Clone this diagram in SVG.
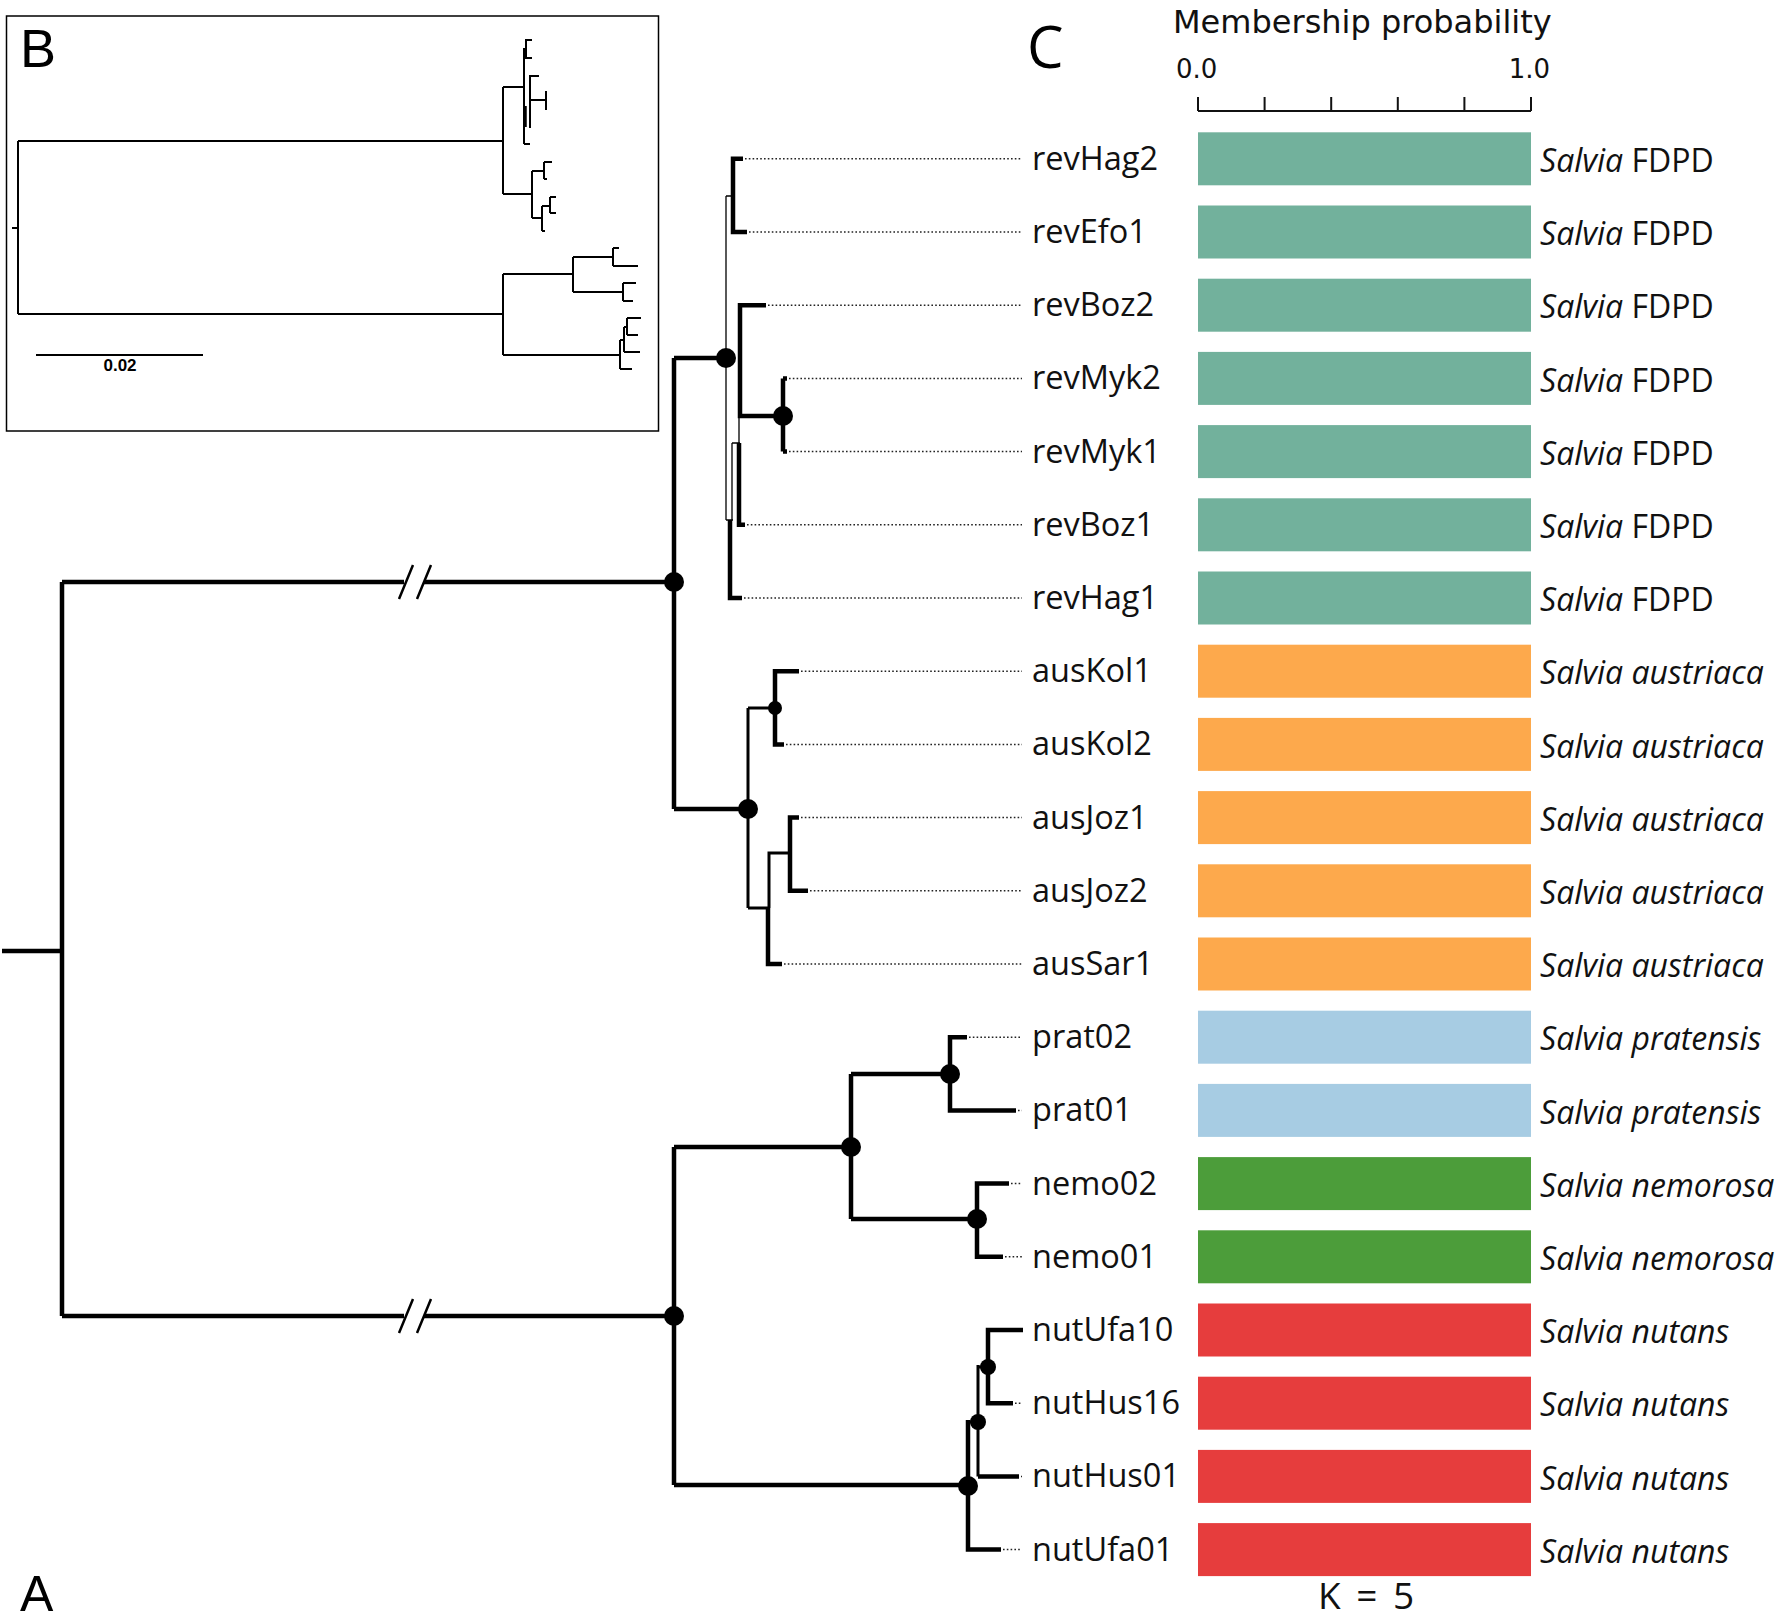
<svg xmlns="http://www.w3.org/2000/svg" width="1779" height="1620" viewBox="0 0 1779 1620">
<style>
.br{fill:none;stroke:#000;stroke-width:4.5;stroke-linecap:butt;stroke-linejoin:miter}
.md{fill:none;stroke:#000;stroke-width:3;stroke-linejoin:miter}
.th{fill:none;stroke:#000;stroke-width:1.3}
.sl{fill:none;stroke:#000;stroke-width:2.5}
.dot{fill:none;stroke:#222;stroke-width:1.5;stroke-dasharray:1.6 2.2}
.bt{fill:none;stroke:#000;stroke-width:2}
.nd{fill:#000}
.tip{font-family:"Open Sans","Noto Sans",sans-serif;font-size:32.5px;fill:#111}
.sp{font-family:"Open Sans","Noto Sans",sans-serif;font-size:32px;fill:#111}
.it{font-style:italic}
.ax{font-family:"DejaVu Sans",sans-serif;fill:#111}
.pl{font-family:"Liberation Sans",Arial,sans-serif;fill:#000}
.fdpd{fill:#72B19C}.aus{fill:#FDA94C}.prat{fill:#A7CCE3}.nemo{fill:#4C9D3A}.nut{fill:#E63D3D}
</style>

<!-- Panel B inset -->
<g id="panel-B">
<rect x="6.5" y="16" width="652" height="415" fill="none" stroke="#000" stroke-width="1.5"/>
<text class="pl" x="20" y="67" font-size="54">B</text>
<g class="bt">
<path d="M12,228H18M18,141V314M18,141H503M18,314H503"/>
<path d="M503,87V194M503,87H524M503,194H532"/>
<path d="M524,48V144M532,40H526V58H532M539,76H530V128M530,100H546M546,91V110M524,144H530"/>
<path d="M525,106V127" stroke-width="3.5"/>
<path d="M532,171V218M532,171H544M544,162V179M544,162H552M544,179H547"/>
<path d="M532,218H542M542,206V231M542,231H545M542,206H550M550,197V213M550,197H556M550,213H556"/>
<path d="M503,274V355M503,274H573M573,257V292M573,257H613M613,248V266M613,248H619M613,266H638"/>
<path d="M573,292H623M623,283V301M623,283H636M623,301H633"/>
<path d="M503,355H620M620,340V369M620,369H632M620,340H624M624,327V352M624,352H640M624,327H627M627,318V335M627,318H641M627,335H638"/>
<path d="M36,355H203"/>
</g>
<text class="pl" x="120" y="371" font-size="17" font-weight="bold" text-anchor="middle">0.02</text>
</g>

<!-- Panel labels -->
<text id="label-A" class="pl" x="20" y="1611" font-size="50">A</text>
<text id="label-C" x="1027" y="68" font-family="'Open Sans','Noto Sans',sans-serif" font-size="58" fill="#000">C</text>

<!-- Tree connectors -->
<g id="connectors">
<path class="br" d="M2,951H62M62,582V1316"/>
<path class="br" d="M62,582H404M424,582H674M62,1316H404M424,1316H674"/>
<path class="sl" d="M399,599L413,565M417,599L431,565M399,1333L413,1299M417,1333L431,1299"/>
<path class="br" d="M674,358V809M674,358H726M674,809H748"/>
<path class="br" d="M674,1147V1485M674,1147H851M674,1485H968"/>
<!-- FDPD clade -->
<path class="th" d="M726,196V520M726,196H733M726,520H733M739,416V443M732,443H740M732,443V520"/>
<path class="br" d="M743,158.8H733V232H747"/>
<path class="br" d="M766,305.2H740V416H783"/>
<path class="br" d="M783,378.4V451.6M783,378.4H787M783,451.6H787"/>
<path class="br" d="M739,443V524.8H745"/>
<path class="br" d="M730,520V598H742"/>
<!-- austriaca clade -->
<path class="md" d="M748,708V908M748,708H775M748,908H768M769,908V853H789"/>
<path class="br" d="M799,671.2H775V744.4H784"/>
<path class="br" d="M768,908V964H782"/>
<path class="br" d="M799,817.6H790V890.8H808"/>
<!-- pratensis / nemorosa -->
<path class="br" d="M851,1074V1219M851,1074H950M851,1219H977"/>
<path class="br" d="M967,1037.2H950V1110.4H1016"/>
<path class="br" d="M1009,1183.6H977V1256.8H1003"/>
<!-- nutans -->
<path class="br" d="M968,1420V1549.6H1001"/>
<path class="md" d="M968,1422H978M978,1365V1476.4M988,1367H978"/>
<path class="br" d="M978,1476.4H1019"/>
<path class="br" d="M1023,1330H988V1403.2H1013"/>
<!-- leader lines -->
<path class="dot" d="M745,158.8H1022M749,232H1022M768,305.2H1022M789,378.4H1022M789,451.6H1022M747,524.8H1022M744,598H1022M801,671.2H1022M786,744.4H1022M801,817.6H1022M810,890.8H1022M784,964H1022M969,1037.2H1022M1018,1110.4H1022M1011,1183.6H1022M1005,1256.8H1022M1015,1403.2H1022M1021,1476.4H1022M1003,1549.6H1022"/>
<!-- support nodes -->
<g class="nd">
<circle cx="674" cy="582" r="10"/>
<circle cx="674" cy="1316" r="10"/>
<circle cx="726" cy="358" r="10"/>
<circle cx="748" cy="809" r="10"/>
<circle cx="783" cy="416" r="10"/>
<circle cx="775" cy="708" r="7"/>
<circle cx="851" cy="1147" r="10"/>
<circle cx="950" cy="1074" r="10"/>
<circle cx="977" cy="1219" r="10"/>
<circle cx="968" cy="1486" r="10"/>
<circle cx="978" cy="1422" r="8"/>
<circle cx="988" cy="1367" r="8"/>
</g>
</g>

<!-- Panel C axis -->
<g id="axis-C">
<text class="ax" x="1173" y="33" font-size="32">Membership probability</text>
<text class="ax" x="1176" y="78" font-size="26">0.0</text>
<text class="ax" x="1550" y="78" font-size="26" text-anchor="end">1.0</text>
<path d="M1198,111H1531M1198,97V111M1264.6,97V111M1331.2,97V111M1397.8,97V111M1464.4,97V111M1531,97V111" fill="none" stroke="#111" stroke-width="2"/>
<text x="1366" y="1609" font-family="'Open Sans','Noto Sans',sans-serif" font-size="37" text-anchor="middle" fill="#111" word-spacing="6">K = 5</text>
</g>

<!-- Taxa -->
<g id="taxon-revHag2"><text class="tip" x="1032" y="169.8">revHag2</text><rect class="fdpd" x="1198" y="132.3" width="333" height="53"/><text class="sp" x="1540" y="172"><tspan class="it">Salvia</tspan> FDPD</text></g>
<g id="taxon-revEfo1"><text class="tip" x="1032" y="243">revEfo1</text><rect class="fdpd" x="1198" y="205.5" width="333" height="53"/><text class="sp" x="1540" y="245.2"><tspan class="it">Salvia</tspan> FDPD</text></g>
<g id="taxon-revBoz2"><text class="tip" x="1032" y="316.2">revBoz2</text><rect class="fdpd" x="1198" y="278.7" width="333" height="53"/><text class="sp" x="1540" y="318.4"><tspan class="it">Salvia</tspan> FDPD</text></g>
<g id="taxon-revMyk2"><text class="tip" x="1032" y="389.4">revMyk2</text><rect class="fdpd" x="1198" y="351.9" width="333" height="53"/><text class="sp" x="1540" y="391.6"><tspan class="it">Salvia</tspan> FDPD</text></g>
<g id="taxon-revMyk1"><text class="tip" x="1032" y="462.6">revMyk1</text><rect class="fdpd" x="1198" y="425.1" width="333" height="53"/><text class="sp" x="1540" y="464.8"><tspan class="it">Salvia</tspan> FDPD</text></g>
<g id="taxon-revBoz1"><text class="tip" x="1032" y="535.8">revBoz1</text><rect class="fdpd" x="1198" y="498.3" width="333" height="53"/><text class="sp" x="1540" y="538"><tspan class="it">Salvia</tspan> FDPD</text></g>
<g id="taxon-revHag1"><text class="tip" x="1032" y="609">revHag1</text><rect class="fdpd" x="1198" y="571.5" width="333" height="53"/><text class="sp" x="1540" y="611.2"><tspan class="it">Salvia</tspan> FDPD</text></g>
<g id="taxon-ausKol1"><text class="tip" x="1032" y="682.2">ausKol1</text><rect class="aus" x="1198" y="644.7" width="333" height="53"/><text class="sp it" x="1540" y="684.4">Salvia austriaca</text></g>
<g id="taxon-ausKol2"><text class="tip" x="1032" y="755.4">ausKol2</text><rect class="aus" x="1198" y="717.9" width="333" height="53"/><text class="sp it" x="1540" y="757.6">Salvia austriaca</text></g>
<g id="taxon-ausJoz1"><text class="tip" x="1032" y="828.6">ausJoz1</text><rect class="aus" x="1198" y="791.1" width="333" height="53"/><text class="sp it" x="1540" y="830.8">Salvia austriaca</text></g>
<g id="taxon-ausJoz2"><text class="tip" x="1032" y="901.8">ausJoz2</text><rect class="aus" x="1198" y="864.3" width="333" height="53"/><text class="sp it" x="1540" y="904">Salvia austriaca</text></g>
<g id="taxon-ausSar1"><text class="tip" x="1032" y="975">ausSar1</text><rect class="aus" x="1198" y="937.5" width="333" height="53"/><text class="sp it" x="1540" y="977.2">Salvia austriaca</text></g>
<g id="taxon-prat02"><text class="tip" x="1032" y="1048.2">prat02</text><rect class="prat" x="1198" y="1010.7" width="333" height="53"/><text class="sp it" x="1540" y="1050.4">Salvia pratensis</text></g>
<g id="taxon-prat01"><text class="tip" x="1032" y="1121.4">prat01</text><rect class="prat" x="1198" y="1083.9" width="333" height="53"/><text class="sp it" x="1540" y="1123.6">Salvia pratensis</text></g>
<g id="taxon-nemo02"><text class="tip" x="1032" y="1194.6">nemo02</text><rect class="nemo" x="1198" y="1157.1" width="333" height="53"/><text class="sp it" x="1540" y="1196.8">Salvia nemorosa</text></g>
<g id="taxon-nemo01"><text class="tip" x="1032" y="1267.8">nemo01</text><rect class="nemo" x="1198" y="1230.3" width="333" height="53"/><text class="sp it" x="1540" y="1270">Salvia nemorosa</text></g>
<g id="taxon-nutUfa10"><text class="tip" x="1032" y="1341">nutUfa10</text><rect class="nut" x="1198" y="1303.5" width="333" height="53"/><text class="sp it" x="1540" y="1343.2">Salvia nutans</text></g>
<g id="taxon-nutHus16"><text class="tip" x="1032" y="1414.2">nutHus16</text><rect class="nut" x="1198" y="1376.7" width="333" height="53"/><text class="sp it" x="1540" y="1416.4">Salvia nutans</text></g>
<g id="taxon-nutHus01"><text class="tip" x="1032" y="1487.4">nutHus01</text><rect class="nut" x="1198" y="1449.9" width="333" height="53"/><text class="sp it" x="1540" y="1489.6">Salvia nutans</text></g>
<g id="taxon-nutUfa01"><text class="tip" x="1032" y="1560.6">nutUfa01</text><rect class="nut" x="1198" y="1523.1" width="333" height="53"/><text class="sp it" x="1540" y="1562.8">Salvia nutans</text></g>
</svg>
